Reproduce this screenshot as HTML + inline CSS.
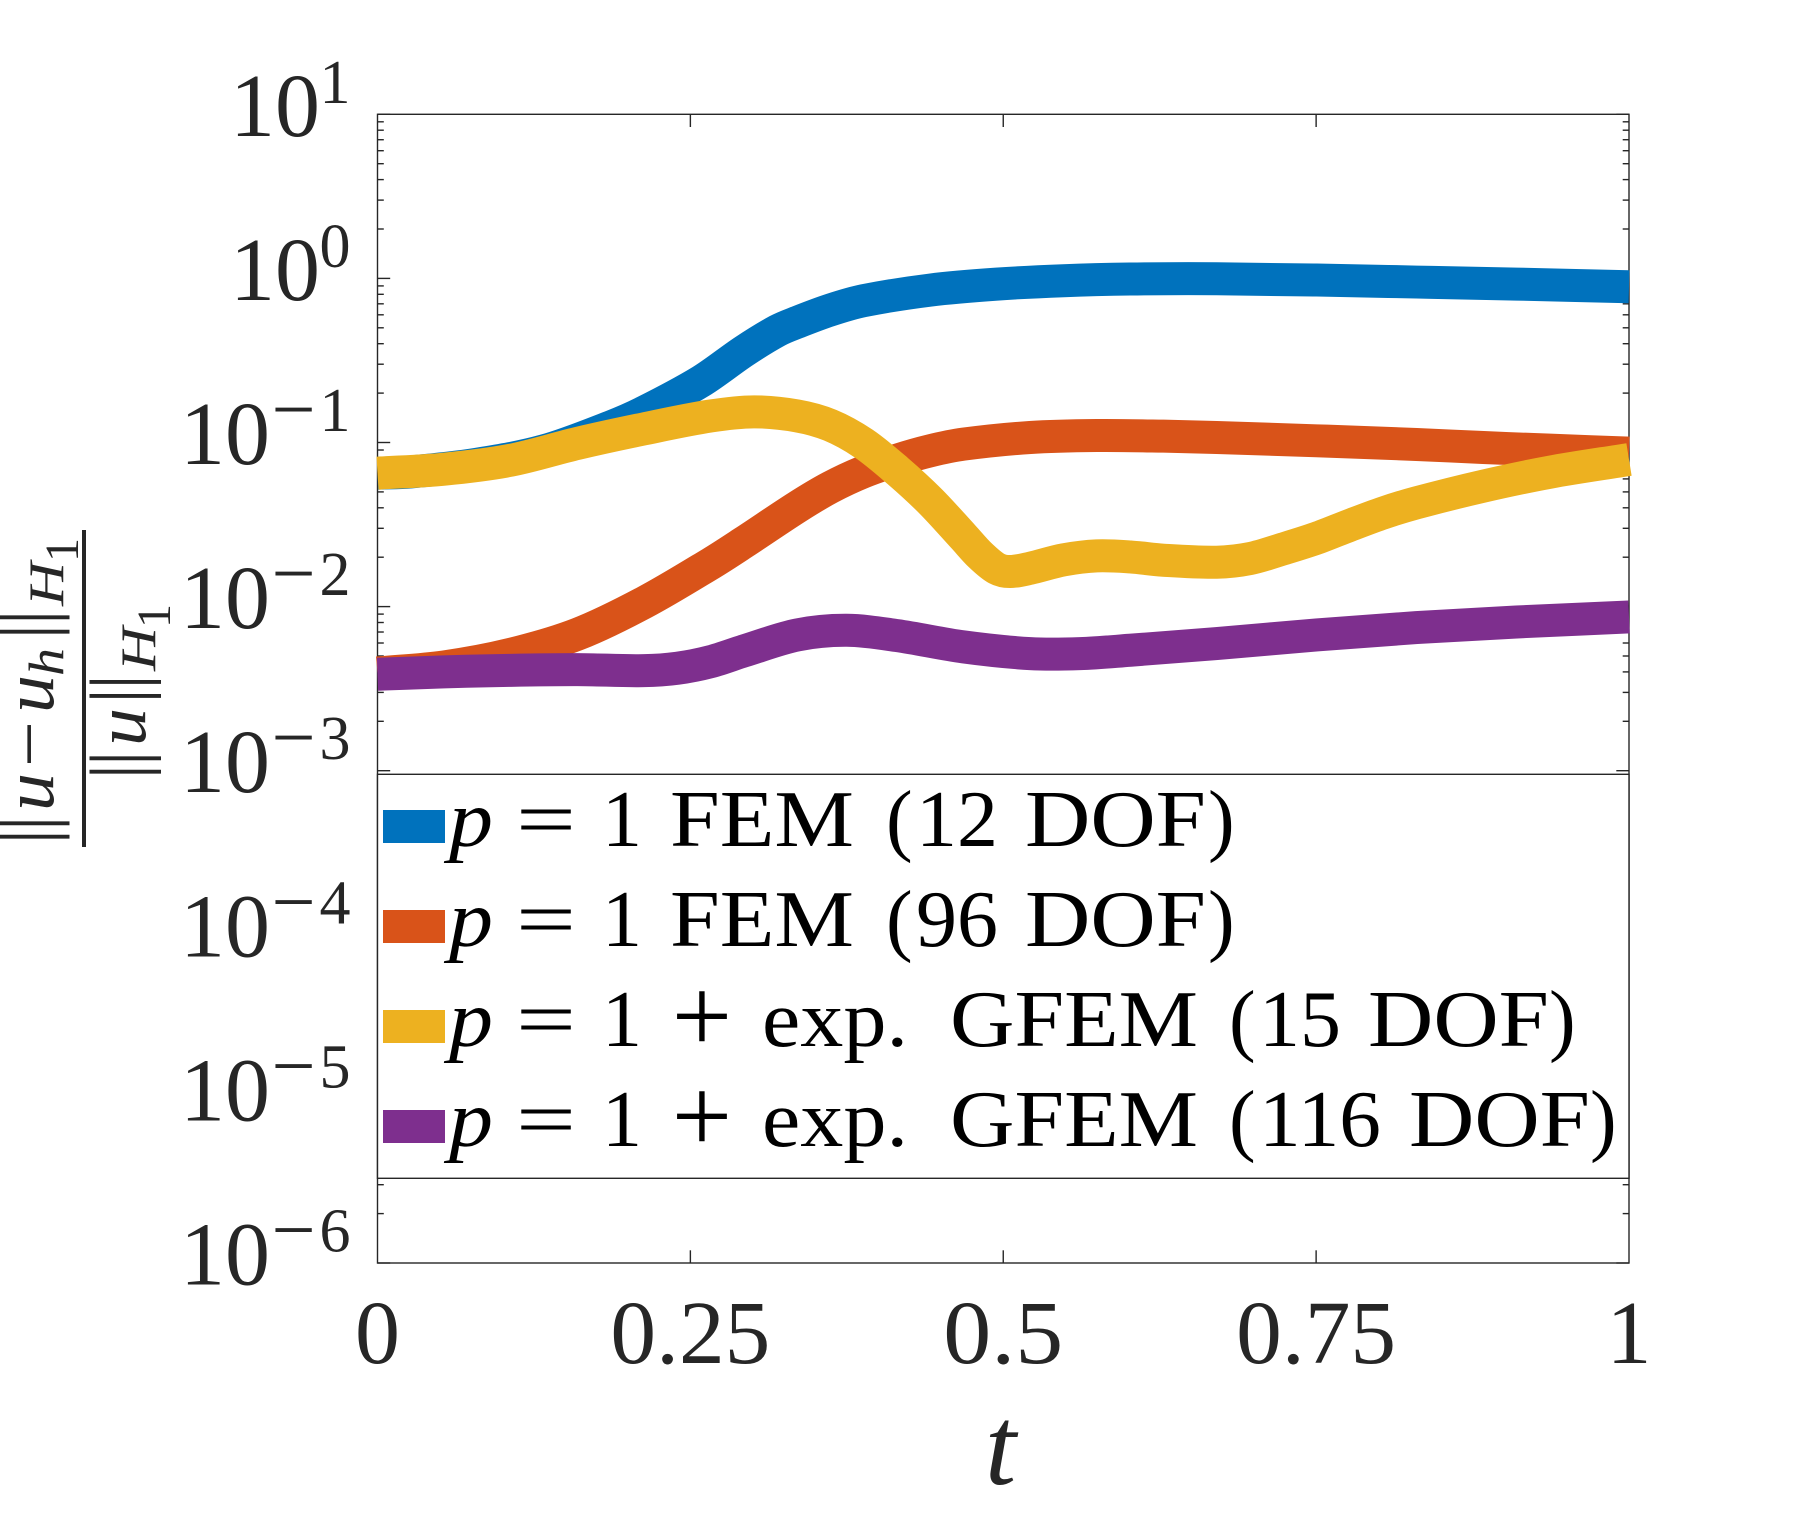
<!DOCTYPE html>
<html lang="en">
<head>
<meta charset="utf-8">
<title>Relative H1 error over time</title>
<style>
html,body{margin:0;padding:0;background:#fff;}
svg{display:block;font-family:"Liberation Serif","DejaVu Serif",serif;}
.lg{font-size:80px;fill:#000;}
.it{font-style:italic;}
.yl{fill:#262626;}
</style>
</head>
<body>
<svg id="chart" width="1800" height="1520" viewBox="0 0 1800 1520" xmlns="http://www.w3.org/2000/svg">
<rect x="0" y="0" width="1800" height="1520" fill="#ffffff"/>
<g id="axes"></g>
<g id="series"></g>

<g class="yl">
  <text transform="translate(53,844.5) rotate(-90)" font-size="78">|</text>
  <text transform="translate(53,831.1) rotate(-90)" font-size="78">|</text>
  <text class="it" transform="translate(53,811) rotate(-90)" font-size="72" textLength="38" lengthAdjust="spacingAndGlyphs">u</text>
  <text transform="translate(53,767) rotate(-90)" font-size="72" textLength="46" lengthAdjust="spacingAndGlyphs">−</text>
  <text class="it" transform="translate(53,713) rotate(-90)" font-size="72" textLength="38" lengthAdjust="spacingAndGlyphs">u</text>
  <text class="it" transform="translate(63,676) rotate(-90)" font-size="50" textLength="28" lengthAdjust="spacingAndGlyphs">h</text>
  <text transform="translate(53,639.5) rotate(-90)" font-size="78">|</text>
  <text transform="translate(53,625.1) rotate(-90)" font-size="78">|</text>
  <text class="it" transform="translate(63,606) rotate(-90)" font-size="50" textLength="44" lengthAdjust="spacingAndGlyphs">H</text>
  <text transform="translate(78,562) rotate(-90)" font-size="48">1</text>
  <rect x="82" y="530" width="4" height="317" fill="#262626"/>
  <text transform="translate(144.5,779.5) rotate(-90)" font-size="78">|</text>
  <text transform="translate(144.5,766.1) rotate(-90)" font-size="78">|</text>
  <text class="it" transform="translate(145,746) rotate(-90)" font-size="72" textLength="38" lengthAdjust="spacingAndGlyphs">u</text>
  <text transform="translate(144.5,703.8) rotate(-90)" font-size="78">|</text>
  <text transform="translate(144.5,689.8) rotate(-90)" font-size="78">|</text>
  <text class="it" transform="translate(155,671) rotate(-90)" font-size="50" textLength="44" lengthAdjust="spacingAndGlyphs">H</text>
  <text transform="translate(170,628) rotate(-90)" font-size="48">1</text>
</g>

<text class="it yl" x="985" y="1484" font-size="112">t</text>

<g>
  <rect x="377.5" y="774.3" width="1251.5" height="404" fill="#ffffff" stroke="#262626" stroke-width="1.4"/>

  <g>
    <rect x="383" y="810" width="62" height="33" fill="#0072BD"/>
    <text class="lg it" x="449" y="846" textLength="44" lengthAdjust="spacingAndGlyphs">p</text>
    <text class="lg" x="516" y="846" textLength="60" lengthAdjust="spacingAndGlyphs">=</text>
    <text class="lg" x="602" y="846">1</text>
    <text class="lg" x="670" y="846" textLength="184" lengthAdjust="spacingAndGlyphs">FEM</text>
    <text class="lg" x="886" y="846">(</text>
    <text class="lg" x="916" y="846" textLength="82" lengthAdjust="spacingAndGlyphs">12</text>
    <text class="lg" x="1025" y="846" textLength="181" lengthAdjust="spacingAndGlyphs">DOF</text>
    <text class="lg" x="1208" y="846">)</text>
  </g>

  <g>
    <rect x="383" y="910" width="62" height="33" fill="#D95319"/>
    <text class="lg it" x="449" y="946" textLength="44" lengthAdjust="spacingAndGlyphs">p</text>
    <text class="lg" x="516" y="946" textLength="60" lengthAdjust="spacingAndGlyphs">=</text>
    <text class="lg" x="602" y="946">1</text>
    <text class="lg" x="670" y="946" textLength="184" lengthAdjust="spacingAndGlyphs">FEM</text>
    <text class="lg" x="886" y="946">(</text>
    <text class="lg" x="916" y="946" textLength="82" lengthAdjust="spacingAndGlyphs">96</text>
    <text class="lg" x="1025" y="946" textLength="181" lengthAdjust="spacingAndGlyphs">DOF</text>
    <text class="lg" x="1208" y="946">)</text>
  </g>

  <g>
    <rect x="383" y="1010" width="62" height="33" fill="#EDB120"/>
    <text class="lg it" x="449" y="1046" textLength="44" lengthAdjust="spacingAndGlyphs">p</text>
    <text class="lg" x="516" y="1046" textLength="60" lengthAdjust="spacingAndGlyphs">=</text>
    <text class="lg" x="602" y="1046">1</text>
    <text class="lg" x="671.8" y="1052" font-size="107" style="font-size:107px">+</text>
    <text class="lg" x="762" y="1046" textLength="146" lengthAdjust="spacingAndGlyphs">exp.</text>
    <text class="lg" x="950" y="1046" textLength="248" lengthAdjust="spacingAndGlyphs">GFEM</text>
    <text class="lg" x="1229" y="1046">(</text>
    <text class="lg" x="1259" y="1046" textLength="82" lengthAdjust="spacingAndGlyphs">15</text>
    <text class="lg" x="1368" y="1046" textLength="181" lengthAdjust="spacingAndGlyphs">DOF</text>
    <text class="lg" x="1549" y="1046">)</text>
  </g>

  <g>
    <rect x="383" y="1110" width="62" height="33" fill="#7E2F8E"/>
    <text class="lg it" x="449" y="1146" textLength="44" lengthAdjust="spacingAndGlyphs">p</text>
    <text class="lg" x="516" y="1146" textLength="60" lengthAdjust="spacingAndGlyphs">=</text>
    <text class="lg" x="602" y="1146">1</text>
    <text class="lg" x="671.8" y="1152" font-size="107" style="font-size:107px">+</text>
    <text class="lg" x="762" y="1146" textLength="146" lengthAdjust="spacingAndGlyphs">exp.</text>
    <text class="lg" x="950" y="1146" textLength="248" lengthAdjust="spacingAndGlyphs">GFEM</text>
    <text class="lg" x="1229" y="1146">(</text>
    <text class="lg" x="1259" y="1146" textLength="122" lengthAdjust="spacingAndGlyphs">116</text>
    <text class="lg" x="1409" y="1146" textLength="181" lengthAdjust="spacingAndGlyphs">DOF</text>
    <text class="lg" x="1590" y="1146">)</text>
  </g>
</g>
</svg>

<script>
const xTickValues = [0, 0.25, 0.5, 0.75, 1];
const xTickLabels = ['0', '0.25', '0.5', '0.75', '1'];
const yTickExponents = [1, 0, -1, -2, -3, -4, -5, -6];

const tFemCoarse = [0,0.0266,0.0799,0.1331,0.1864,0.213,0.2583,0.2929,0.3195,0.3351,0.3617,0.3883,0.4416,0.4948,0.5481,0.6013,0.6706,0.7504,0.8302,0.9101,1];
const errFemCoarse = [0.0650,0.0662,0.0738,0.0890,0.1246,0.1531,0.2355,0.3606,0.4797,0.5392,0.641,0.731,0.849,0.923,0.968,0.991,0.995,0.977,0.950,0.923,0.890];

const tFemFine = [0,0.0532,0.1065,0.1597,0.213,0.2663,0.2929,0.3355,0.3617,0.3883,0.415,0.4416,0.4682,0.5215,0.5747,0.628,0.6705,0.7504,0.8302,0.8835,0.9367,1];
const errFemFine = [0.00394,0.00429,0.00512,0.00678,0.01058,0.01829,0.02468,0.0405,0.0532,0.0662,0.0780,0.0890,0.0977,0.1073,0.1103,0.1093,0.1073,0.1024,0.0973,0.0932,0.0898,0.0861];

const tGfemCoarse = [0,0.0532,0.1065,0.1597,0.213,0.2663,0.3009,0.3351,0.3617,0.3883,0.415,0.4416,0.4682,0.4815,0.4948,0.5055,0.5215,0.5481,0.5747,0.6013,0.628,0.6705,0.6971,0.7237,0.7504,0.777,0.8036,0.8302,0.8835,0.9367,1];
const errGfemCoarse = [0.0650,0.0688,0.0780,0.0987,0.1211,0.1451,0.1538,0.1454,0.1275,0.0987,0.0678,0.0441,0.0266,0.0206,0.01705,0.01635,0.01713,0.01926,0.02037,0.02008,0.01917,0.01864,0.01962,0.02247,0.0261,0.0313,0.0372,0.0429,0.0542,0.0659,0.0788];

const tGfemFine = [0,0.0532,0.1065,0.1597,0.213,0.2396,0.2663,0.2929,0.3355,0.375,0.415,0.4682,0.5215,0.5614,0.6013,0.6705,0.7504,0.8302,0.9101,1];
const errGfemFine = [0.00387,0.00400,0.00409,0.00413,0.00407,0.00421,0.00462,0.00537,0.00672,0.00717,0.00666,0.00568,0.00517,0.00517,0.00542,0.00595,0.00672,0.00745,0.00806,0.00865];

const NS = 'http://www.w3.org/2000/svg';
const plotLeft = 377.5, plotRight = 1629, plotTop = 114.3, plotBottom = 1263;
const yMaxExp = 1, yMinExp = -6;
const ink = '#262626';
const axesGroup = document.getElementById('axes');
const seriesGroup = document.getElementById('series');

function xScale(t) { return plotLeft + t * (plotRight - plotLeft); }
function yScale(v) { return plotTop + (yMaxExp - Math.log10(v)) / (yMaxExp - yMinExp) * (plotBottom - plotTop); }

function makeLine(x1, y1, x2, y2) {
  const l = document.createElementNS(NS, 'line');
  l.setAttribute('x1', x1); l.setAttribute('y1', y1);
  l.setAttribute('x2', x2); l.setAttribute('y2', y2);
  l.setAttribute('stroke', ink); l.setAttribute('stroke-width', '1.4');
  return l;
}
function makeText(str, x, y, size) {
  const t = document.createElementNS(NS, 'text');
  t.textContent = str;
  t.setAttribute('x', x); t.setAttribute('y', y);
  t.setAttribute('font-size', size); t.setAttribute('fill', ink);
  return t;
}

const frame = document.createElementNS(NS, 'rect');
frame.setAttribute('x', plotLeft);
frame.setAttribute('y', plotTop);
frame.setAttribute('width', plotRight - plotLeft);
frame.setAttribute('height', plotBottom - plotTop);
frame.setAttribute('fill', 'none');
frame.setAttribute('stroke', ink);
frame.setAttribute('stroke-width', '1.4');


axesGroup.appendChild(frame);

xTickValues.forEach(function (tv, i) {
  const px = xScale(tv);
  if (i > 0 && i < xTickValues.length - 1) {
    const tickB = makeLine(px, plotBottom, px, plotBottom - 12.7);
    
    
    axesGroup.appendChild(tickB);
    const tickT = makeLine(px, plotTop, px, plotTop + 12.7);
    
    
    axesGroup.appendChild(tickT);
  }
  const lab = makeText(xTickLabels[i], px, 1363, 90);
  lab.setAttribute('text-anchor', 'middle');
  if (xTickLabels[i].length > 1) {
    lab.setAttribute('textLength', xTickLabels[i].length * 40);
    lab.setAttribute('lengthAdjust', 'spacingAndGlyphs');
  }
  
  
  axesGroup.appendChild(lab);
});

yTickExponents.forEach(function (e) {
  const py = yScale(Math.pow(10, e));
  [[plotLeft, 1], [plotRight, -1]].forEach(function (side) {
    const major = makeLine(side[0], py, side[0] + side[1] * 12.7, py);
    
    
    axesGroup.appendChild(major);
    if (e > yMinExp) {
      for (let m = 2; m <= 9; m++) {
        const my = yScale(m * Math.pow(10, e - 1));
        const minor = makeLine(side[0], my, side[0] + side[1] * 6.3, my);
        
        
        axesGroup.appendChild(minor);
      }
    }
  });
  const base = makeText('10', e < 0 ? 180 : 230, py + 21.5, 90);
  base.setAttribute('textLength', '90');
  base.setAttribute('lengthAdjust', 'spacingAndGlyphs');
  
  
  axesGroup.appendChild(base);
  if (e < 0) {
    const minus = makeText('−', 293.5, py - 7, 78);
    minus.setAttribute('text-anchor', 'middle');
    
    
    axesGroup.appendChild(minus);
  }
  const expo = makeText(String(Math.abs(e)), 335, py - 11.5, 62);
  expo.setAttribute('text-anchor', 'middle');
  
  
  axesGroup.appendChild(expo);
});

function curvePath(ts, vs) {
  const pts = ts.map(function (t, i) { return [xScale(t), yScale(vs[i])]; });
  let d = 'M' + pts[0][0].toFixed(2) + ' ' + pts[0][1].toFixed(2);
  for (let i = 0; i < pts.length - 1; i++) {
    const p0 = pts[Math.max(i - 1, 0)], p1 = pts[i], p2 = pts[i + 1], p3 = pts[Math.min(i + 2, pts.length - 1)];
    const h = p2[0] - p1[0];
    const m1 = (p2[1] - p0[1]) / (p2[0] - p0[0]);
    const m2 = (p3[1] - p1[1]) / (p3[0] - p1[0]);
    const c1x = p1[0] + h / 3, c1y = p1[1] + m1 * h / 3;
    const c2x = p2[0] - h / 3, c2y = p2[1] - m2 * h / 3;
    d += 'C' + c1x.toFixed(2) + ' ' + c1y.toFixed(2) + ' ' + c2x.toFixed(2) + ' ' + c2y.toFixed(2) + ' ' + p2[0].toFixed(2) + ' ' + p2[1].toFixed(2);
  }
  return d;
}
function makeCurve(ts, vs, color) {
  const p = document.createElementNS(NS, 'path');
  p.setAttribute('d', curvePath(ts, vs));
  p.setAttribute('fill', 'none');
  p.setAttribute('stroke', color);
  p.setAttribute('stroke-width', '33');
  p.setAttribute('stroke-linejoin', 'round');
  p.setAttribute('stroke-linecap', 'butt');
  return p;
}

const curveFemCoarse = makeCurve(tFemCoarse, errFemCoarse, '#0072BD');


seriesGroup.appendChild(curveFemCoarse);

const curveFemFine = makeCurve(tFemFine, errFemFine, '#D95319');


seriesGroup.appendChild(curveFemFine);

const curveGfemCoarse = makeCurve(tGfemCoarse, errGfemCoarse, '#EDB120');


seriesGroup.appendChild(curveGfemCoarse);

const curveGfemFine = makeCurve(tGfemFine, errGfemFine, '#7E2F8E');


seriesGroup.appendChild(curveGfemFine);
</script>
</body>
</html>
